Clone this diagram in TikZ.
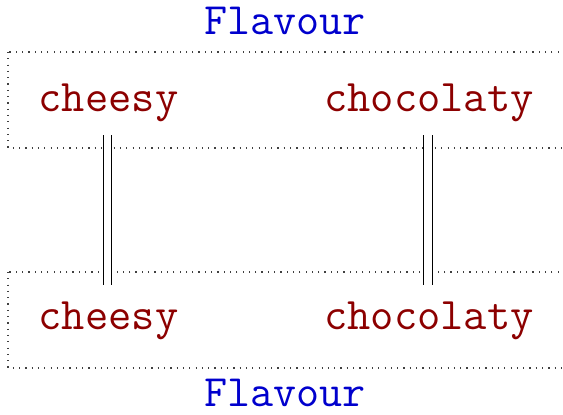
\documentclass[tikz,border=0pt]{standalone}
\begin{document}
\begin{tikzpicture}[x=0.5pt, y=-0.5pt,
  item/.style={font=\fontsize{22.6pt}{27pt}\selectfont\ttfamily, text=itemred,
               inner sep=0pt, anchor=base, text height=22.5pt, text depth=11.5pt},
  title/.style={font=\fontsize{22.4pt}{27pt}\selectfont\ttfamily, text=titleblue,
                inner sep=0pt, anchor=base},
  frame/.style={draw=black!75, line width=0.6pt, dash pattern=on 0.6pt off 2.55pt},
  link/.style={double, double distance=3.6pt, line width=0.5pt, draw=black}]
\definecolor{itemred}{RGB}{140,0,0}
\definecolor{titleblue}{RGB}{0,0,205}
\useasboundingbox (0,0) rectangle (563,415);
\begin{scope}
  \clip (0,0) rectangle (563,415);
  % dotted frames of the two groups
  \draw[frame] (8,52) rectangle (600,148);
  \draw[frame] (8,272) rectangle (600,368);
\end{scope}
% group titles
\node[title] (ttop) at (285,35) {Flavour};
\node[title] (tbot) at (285,407) {Flavour};
% items
\node[item] (c1) at (108.5,112) {cheesy};
\node[item] (h1) at (429,112) {chocolaty};
\node[item] (c2) at (108.5,330) {cheesy};
\node[item] (h2) at (429,330) {chocolaty};
% links between matching items
\draw[link] (c1.south -| 107.5,0) -- (c2.north -| 107.5,0);
\draw[link] (h1.south -| 428,0) -- (h2.north -| 428,0);
\end{tikzpicture}
\end{document}
